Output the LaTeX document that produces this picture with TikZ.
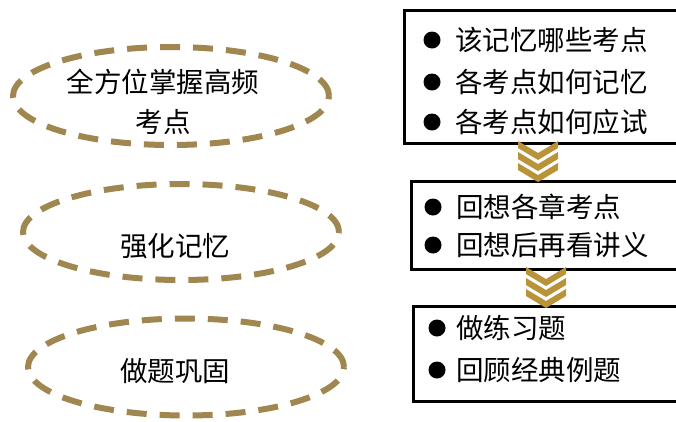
\documentclass[tikz,border=0pt]{standalone}
\usepackage{fontspec}
\newfontfamily\cjk{Noto Sans CJK SC}
\usetikzlibrary{shapes.geometric}
\definecolor{gold}{RGB}{160,135,80}
\definecolor{chev}{RGB}{185,147,58}
\begin{document}
\begin{tikzpicture}[x=1pt,y=-1pt,
  oval/.style={ellipse, draw=gold, line width=6pt, dash pattern=on 20pt off 13pt, inner sep=0pt},
  lbl/.style={font=\cjk\fontsize{27.5}{40}\selectfont, inner sep=0pt, align=center},
  box/.style={draw=black, line width=2.5pt, inner sep=0pt, anchor=north west},
  bul/.style={circle, fill=black, minimum size=17pt, inner sep=0pt},
  item/.style={font=\cjk\fontsize{27.5}{30}\selectfont, inner sep=0pt, anchor=west}]
\useasboundingbox (0,0) rectangle (676,421);
\fill[white] (0,0) rectangle (676,421);
% ellipses
\node[oval, minimum width=316pt, minimum height=98pt] (e1) at (171,96) {};
\node[oval, minimum width=316pt, minimum height=96pt] (e2) at (181,232) {};
\node[oval, minimum width=316pt, minimum height=97pt] (e3) at (186,367) {};
\node[lbl] (t1) at (163,102) {全方位掌握高频\\考点};
\node[lbl] (t2) at (175,246) {强化记忆};
\node[lbl] (t3) at (175,371) {做题巩固};
% boxes
\node[box, minimum width=300pt, minimum height=133pt] (b1) at (403,9) {};
\node[box, minimum width=300pt, minimum height=88pt] (b2) at (410,180) {};
\node[box, minimum width=300pt, minimum height=95pt] (b3) at (412,305) {};
% chevrons
\coordinate (c1) at (538,141);
\coordinate (c2) at (546,267);
\foreach \c in {c1,c2}{
  \foreach \k in {0,11,22}{
    \fill[chev] ([shift={(-20,\k)}]\c) -- ++(20,12) -- ++(20,-12) -- ++(0,7) -- ++(-20,12) -- ++(-20,-12) -- cycle;
  }
}
% items box 1
\node[bul] (p11) at (432,40) {};
\node[bul] (p12) at (432,82) {};
\node[bul] (p13) at (432,122) {};
\node[item] (i11) at (455,40) {该记忆哪些考点};
\node[item] (i12) at (455,82) {各考点如何记忆};
\node[item] (i13) at (455,122) {各考点如何应试};
% items box 2
\node[bul] (p21) at (433,207) {};
\node[bul] (p22) at (433,245) {};
\node[item] (i21) at (456,207) {回想各章考点};
\node[item] (i22) at (456,245) {回想后再看讲义};
% items box 3
\node[bul] (p31) at (437,328) {};
\node[bul] (p32) at (437,370) {};
\node[item] (i31) at (456,328) {做练习题};
\node[item] (i32) at (456,370) {回顾经典例题};
\end{tikzpicture}
\end{document}
